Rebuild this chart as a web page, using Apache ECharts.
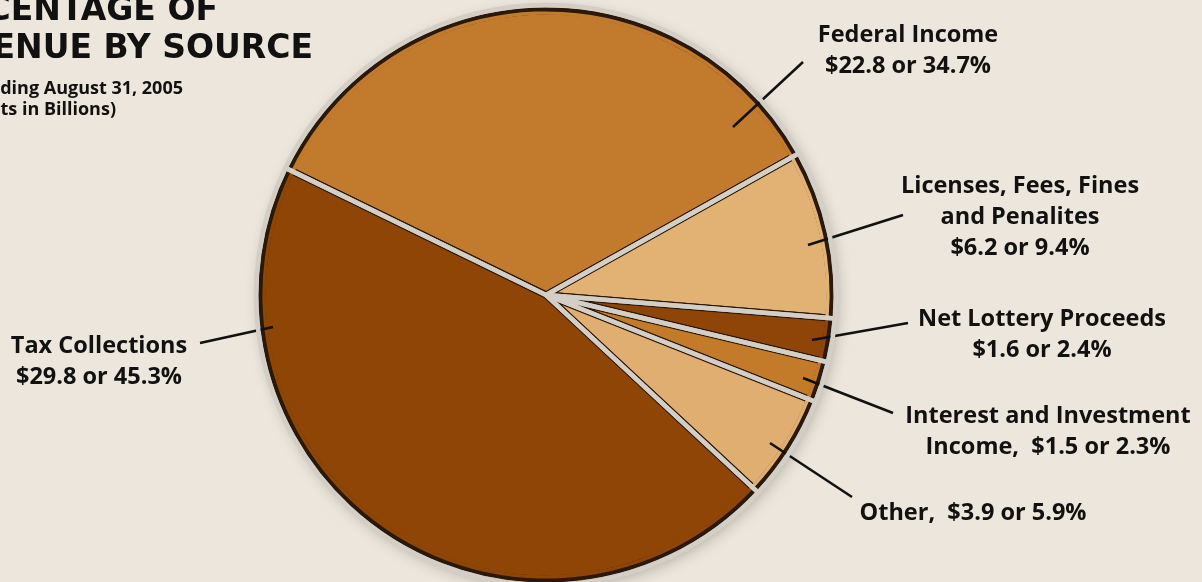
<!DOCTYPE html>
<html>
<head>
<meta charset="utf-8">
<title>Percentage of Revenue by Source</title>
<script src="https://cdn.jsdelivr.net/npm/echarts/dist/echarts.min.js"></script>
<style>
  html, body { margin: 0; padding: 0; background: #ece6dc; }
  #chart { width: 1202px; height: 582px; }
</style>
</head>
<body>
<div id="chart"></div>
<script>
  // revenue by source, fiscal year ending August 31, 2005 (billions)
  var sources = ['Federal Income', 'Licenses, Fees, Fines and Penalites', 'Net Lottery Proceeds',
    'Interest and Investment Income', 'Other', 'Tax Collections']
  var amounts = [22.8, 6.2, 1.6, 1.5, 3.9, 29.8]
  // how each label is written in the picture
  var labelNames = ['Federal Income', 'Licenses, Fees, Fines\nand Penalites', 'Net Lottery Proceeds',
    'Interest and Investment\nIncome,  ', 'Other,  ', 'Tax Collections']
  var labelBreaks = ['\n', '\n', '\n', '', '', '\n']
  var sliceColors = ['#c27a2d', '#e1b274', '#8e4507', '#c37b2a', '#dfae70', '#8f4506']

  var titleLines = ['PERCENTAGE OF', 'REVENUE BY SOURCE']
  var subtitleLines = ['Fiscal Year Ending August 31, 2005', '(Amounts in Billions)']

  var myChart = echarts.init(document.getElementById('chart'), null, { renderer: 'canvas' })

  var center = [546, 295]
  var R = 284
  var startAngle = 154

  // label block centres and leader lines (annotation layout)
  var labelPos = [[908, 51], [1020, 217], [1042, 335], [1048, 432], [973, 513], [99, 362]]
  var leaders = [
    [[733, 127], [803, 62]],
    [[808, 245], [903, 215]],
    [[812, 340], [908, 323]],
    [[803, 378], [893, 413]],
    [[770, 443], [852, 497]],
    [[273, 327], [200, 343]]
  ]

  var pieData = sources.map(function (name, i) {
    return { name: name, value: amounts[i], itemStyle: { color: sliceColors[i] } }
  })
  var total = amounts.reduce(function (a, b) { return a + b }, 0)

  var font = '"Open Sans", "Noto Sans", sans-serif'
  var titleFont = '"DejaVu Sans", sans-serif'

  var option = {
    backgroundColor: '#ece6dc',
    animation: false,
    graphic: [
      { type: 'text', style: { text: titleLines[0], x: 218, y: 11, textAlign: 'right', textVerticalAlign: 'middle', fill: '#111', font: 'bold 33px ' + titleFont } },
      { type: 'text', style: { text: titleLines[1], x: 313, y: 49, textAlign: 'right', textVerticalAlign: 'middle', fill: '#111', font: 'bold 33px ' + titleFont } },
      { type: 'text', style: { text: subtitleLines[0], x: 183, y: 89, textAlign: 'right', textVerticalAlign: 'middle', fill: '#111', font: 'bold 18px ' + font } },
      { type: 'text', style: { text: subtitleLines[1], x: 116, y: 110, textAlign: 'right', textVerticalAlign: 'middle', fill: '#111', font: 'bold 18px ' + font } }
    ],
    series: [
      {
        // soft shadow under the pie
        name: 'halo',
        type: 'pie',
        silent: true,
        z: 1,
        center: center,
        radius: R + 3,
        label: { show: false },
        labelLine: { show: false },
        emphasis: { disabled: true },
        data: [{ value: total, itemStyle: { color: '#d5cfc5', shadowBlur: 16, shadowColor: 'rgba(40,30,20,0.35)', shadowOffsetX: 3, shadowOffsetY: 4 } }]
      },
      {
        name: 'Revenue',
        type: 'pie',
        z: 2,
        center: center,
        radius: R,
        startAngle: startAngle,
        clockwise: true,
        label: { show: false },
        labelLine: { show: false },
        emphasis: { disabled: true },
        itemStyle: { borderColor: '#2a1809', borderWidth: 7, borderJoin: 'round' },
        data: pieData
      },
      {
        // keeps the dark rim thin
        name: 'rim',
        type: 'pie',
        silent: true,
        z: 3,
        center: center,
        radius: [R - 3.8, R - 0.4],
        startAngle: startAngle,
        label: { show: false },
        labelLine: { show: false },
        emphasis: { disabled: true },
        data: pieData
      },
      {
        // light gaps between the slices, carries the labels
        name: 'gaps',
        type: 'pie',
        silent: true,
        z: 6,
        center: center,
        radius: R + 6,
        startAngle: startAngle,
        percentPrecision: 1,
        avoidLabelOverlap: false,
        emphasis: { disabled: true },
        itemStyle: { color: 'rgba(0,0,0,0)', borderColor: '#d3cec6', borderWidth: 4.5, borderJoin: 'round' },
        label: {
          show: true,
          position: 'outside',
          color: '#111',
          fontFamily: font,
          fontWeight: 'bold',
          fontSize: 23.5,
          lineHeight: 31,
          formatter: function (p) {
            var i = p.dataIndex
            return labelNames[i] + labelBreaks[i] + '$' + p.value.toFixed(1) + ' or ' + p.percent.toFixed(1) + '%'
          }
        },
        labelLine: { show: true, length: 10, length2: 10, lineStyle: { color: '#111', width: 2.5 } },
        labelLayout: function (p) {
          var i = p.dataIndex
          var s = leaders[i][0]
          var e = leaders[i][1]
          return {
            x: labelPos[i][0],
            y: labelPos[i][1],
            align: 'center',
            verticalAlign: 'middle',
            labelLinePoints: [s, [(s[0] + e[0]) / 2, (s[1] + e[1]) / 2], e]
          }
        },
        data: sources.map(function (name, i) { return { name: name, value: amounts[i] } })
      }
    ]
  }
  myChart.setOption(option)
</script>
</body>
</html>
